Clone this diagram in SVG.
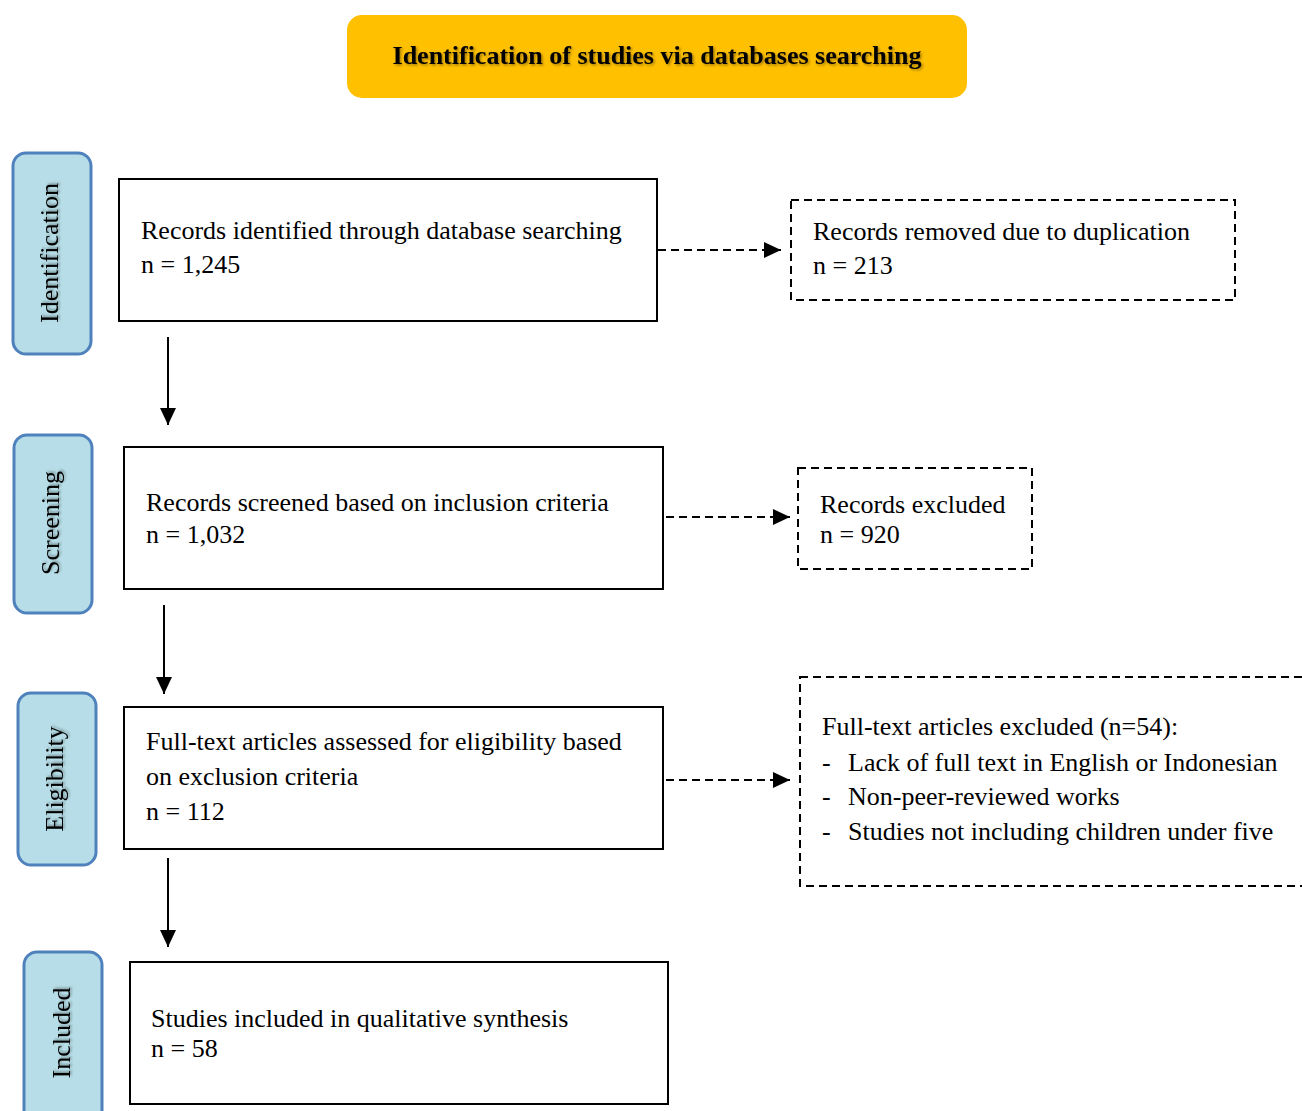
<svg xmlns="http://www.w3.org/2000/svg" width="1302" height="1111" viewBox="0 0 1302 1111">
<style>
.t{font-family:"Liberation Serif","Times New Roman",serif;font-size:26px;fill:#000}
.side{fill:#B7DEE8;stroke:#4F81BD;stroke-width:3}
.st{font-family:"Liberation Serif","Times New Roman",serif;font-size:26px;fill:#000;text-anchor:middle}
.box{fill:#fff;stroke:#000;stroke-width:2}
.dbox{fill:#fff;stroke:#000;stroke-width:2;stroke-dasharray:8 5}
.conn{stroke:#000;stroke-width:2;fill:none}
.dash{stroke-dasharray:8 5}
</style>
<defs>
<marker id="ahb" markerWidth="18" markerHeight="18" refX="17" refY="8" orient="auto" markerUnits="userSpaceOnUse" viewBox="0 0 18 16">
<path d="M0,0 L17,8 L0,16 z" fill="#000"/>
</marker>
<filter id="sh" x="-10%" y="-10%" width="120%" height="130%">
<feDropShadow dx="1.5" dy="1.5" stdDeviation="1" flood-color="#000" flood-opacity="0.35"/>
</filter>
</defs>
<rect width="1302" height="1111" fill="#fff"/>

<g id="title">
<rect x="347" y="15" width="620" height="83" rx="15" fill="#FFC000"/>
<text x="657" y="64" class="t" font-weight="bold" font-size="27" text-anchor="middle" filter="url(#sh)">Identification of studies via databases searching</text>
</g>

<g id="side-identification">
<rect class="side" x="13" y="153" width="78" height="201" rx="13"/>
<text class="st" transform="translate(58,253) rotate(-90)" filter="url(#sh)">Identification</text>
</g>
<g id="side-screening">
<rect class="side" x="14" y="435" width="78" height="178" rx="13"/>
<text class="st" transform="translate(59,523) rotate(-90)" filter="url(#sh)">Screening</text>
</g>
<g id="side-eligibility">
<rect class="side" x="18" y="693" width="78" height="172" rx="13"/>
<text class="st" transform="translate(63,779) rotate(-90)" filter="url(#sh)">Eligibility</text>
</g>
<g id="side-included">
<rect class="side" x="24" y="952" width="78" height="175" rx="13"/>
<text class="st" transform="translate(70,1033) rotate(-90)" filter="url(#sh)">Included</text>
</g>

<g id="records-identified">
<rect class="box" x="119" y="179" width="538" height="142"/>
<text class="t" x="141" y="239">Records identified through database searching</text>
<text class="t" x="141" y="273">n = 1,245</text>
</g>
<g id="records-screened">
<rect class="box" x="124" y="447" width="539" height="142"/>
<text class="t" x="146" y="511">Records screened based on inclusion criteria</text>
<text class="t" x="146" y="543">n = 1,032</text>
</g>
<g id="full-text-assessed">
<rect class="box" x="124" y="707" width="539" height="142"/>
<text class="t" x="146" y="750">Full-text articles assessed for eligibility based</text>
<text class="t" x="146" y="785">on exclusion criteria</text>
<text class="t" x="146" y="820">n = 112</text>
</g>
<g id="studies-included">
<rect class="box" x="130" y="962" width="538" height="142"/>
<text class="t" x="151" y="1027">Studies included in qualitative synthesis</text>
<text class="t" x="151" y="1057">n = 58</text>
</g>

<g id="records-removed">
<rect class="dbox" x="791" y="200" width="444" height="100"/>
<text class="t" x="813" y="240">Records removed due to duplication</text>
<text class="t" x="813" y="274">n = 213</text>
</g>
<g id="records-excluded">
<rect class="dbox" x="798" y="468" width="234" height="101"/>
<text class="t" x="820" y="513">Records excluded</text>
<text class="t" x="820" y="543">n = 920</text>
</g>
<g id="full-text-excluded">
<rect class="dbox" x="800" y="677" width="520" height="209"/>
<text class="t" x="822" y="735">Full-text articles excluded (n=54):</text>
<text class="t" x="822" y="771">-</text>
<text class="t" x="848" y="771">Lack of full text in English or Indonesian</text>
<text class="t" x="822" y="805">-</text>
<text class="t" x="848" y="805">Non-peer-reviewed works</text>
<text class="t" x="822" y="840">-</text>
<text class="t" x="848" y="840">Studies not including children under five</text>
</g>

<g id="connectors">
<line class="conn dash" x1="658" y1="250" x2="781" y2="250" marker-end="url(#ahb)"/>
<line class="conn dash" x1="666" y1="517" x2="790" y2="517" marker-end="url(#ahb)"/>
<line class="conn dash" x1="666" y1="780" x2="790" y2="780" marker-end="url(#ahb)"/>
<line class="conn" x1="168" y1="337" x2="168" y2="425" marker-end="url(#ahb)"/>
<line class="conn" x1="164" y1="605" x2="164" y2="694" marker-end="url(#ahb)"/>
<line class="conn" x1="168" y1="858" x2="168" y2="947" marker-end="url(#ahb)"/>
</g>
</svg>
